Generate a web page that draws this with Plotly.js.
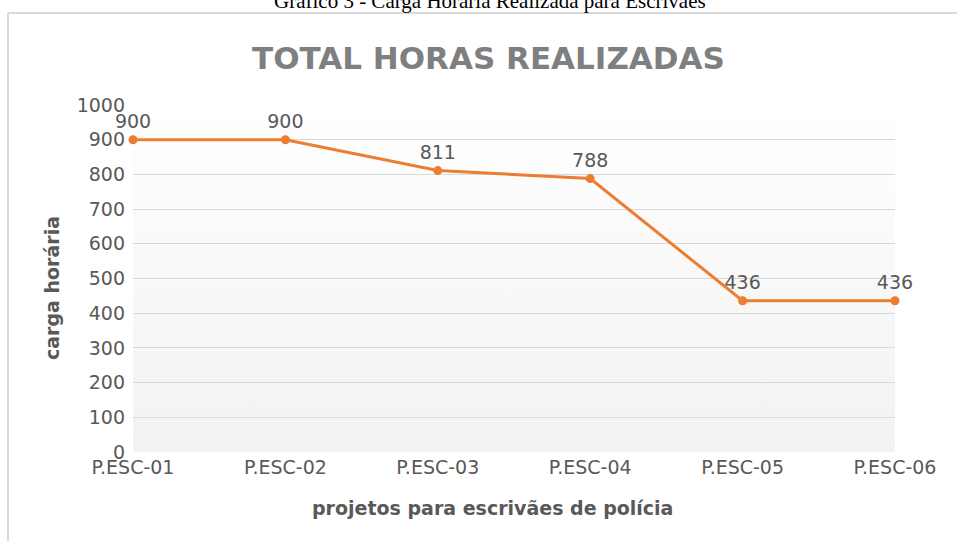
<!DOCTYPE html>
<html>
<head>
<meta charset="utf-8">
<script src="https://cdn.plot.ly/plotly-3.0.1.min.js"></script>
<style>
  html, body { margin: 0; padding: 0; background: #ffffff; }
  #wrap { position: relative; width: 957px; height: 541px; }
  #bg { position: absolute; left: 133px; top: 105px; width: 762px; height: 347px;
        background: linear-gradient(to bottom, #ffffff 0%, #f2f2f2 100%); }
  #chart { position: absolute; left: 0; top: 0; width: 957px; height: 541px; }
</style>
</head>
<body>
<div id="wrap">
  <div id="bg"></div>
  <div id="chart"></div>
</div>
<script>
const categories = ["P.ESC-01", "P.ESC-02", "P.ESC-03", "P.ESC-04", "P.ESC-05", "P.ESC-06"];
const hours = [900, 900, 811, 788, 436, 436];
const yTicks = [0, 100, 200, 300, 400, 500, 600, 700, 800, 900, 1000];

const L = 133, R = 62, T = 105, B = 89, W = 957, H = 541;
const pw = W - L - R, ph = H - T - B;
const px = x => (x - L) / pw;
const py = y => (H - B - y) / ph;
const FONT = 'DejaVu Sans';
const GREY = '#595959';

const trace = {
  x: categories,
  y: hours,
  type: 'scatter',
  mode: 'lines+markers+text',
  text: hours.map(String),
  textposition: 'top center',
  textfont: { family: FONT, size: 19, color: GREY },
  line: { color: '#ED7D31', width: 3 },
  marker: { color: '#ED7D31', size: 9 },
  cliponaxis: false,
  hoverinfo: 'none'
};

const layout = {
  width: W, height: H,
  margin: { l: L, r: R, t: T, b: B, pad: 0 },
  paper_bgcolor: 'rgba(0,0,0,0)',
  plot_bgcolor: 'rgba(0,0,0,0)',
  showlegend: false,
  font: { family: FONT, color: GREY, size: 19 },
  xaxis: {
    type: 'category',
    range: [0, categories.length - 1],
    showgrid: false,
    zeroline: false,
    showline: false,
    ticks: '',
    ticklabelstandoff: 2,
    tickfont: { family: FONT, size: 19, color: GREY }
  },
  yaxis: {
    range: [0, 1000],
    tickvals: yTicks,
    ticktext: yTicks.map(String),
    showgrid: true,
    gridcolor: '#d9d9d9',
    gridwidth: 1,
    zeroline: false,
    showline: false,
    ticks: '',
    ticklabelstandoff: 7,
    tickfont: { family: FONT, size: 19, color: GREY }
  },
  annotations: [
    {
      text: '<b>TOTAL HORAS REALIZADAS</b>',
      xref: 'paper', yref: 'paper', x: px(488), y: py(58),
      xanchor: 'center', yanchor: 'middle', showarrow: false,
      font: { family: FONT, size: 31, color: '#7f7f7f' }
    },
    {
      text: 'Gráfico 3 - Carga Horária Realizada para Escrivães',
      xref: 'paper', yref: 'paper', x: px(490), y: py(15),
      xanchor: 'center', yanchor: 'bottom', showarrow: false,
      font: { family: 'Liberation Serif', size: 21, color: '#000000' }
    },
    {
      text: '<b>projetos para escrivães de polícia</b>',
      xref: 'paper', yref: 'paper', x: px(492), y: py(508),
      xanchor: 'center', yanchor: 'middle', showarrow: false,
      font: { family: FONT, size: 19, color: GREY }
    },
    {
      text: '<b>carga horária</b>',
      xref: 'paper', yref: 'paper', x: px(52), y: py(288),
      xanchor: 'center', yanchor: 'middle', showarrow: false, textangle: -90,
      font: { family: FONT, size: 19, color: GREY }
    }
  ],
  shapes: [
    { type: 'line', xref: 'paper', yref: 'paper', x0: px(8), x1: px(957), y0: py(13), y1: py(13),
      line: { color: '#d9d9d9', width: 2 } },
    { type: 'line', xref: 'paper', yref: 'paper', x0: px(8), x1: px(8), y0: py(13), y1: py(541),
      line: { color: '#d9d9d9', width: 2 } }
  ]
};

Plotly.newPlot('chart', [trace], layout, { displayModeBar: false, staticPlot: true });
</script>
</body>
</html>
